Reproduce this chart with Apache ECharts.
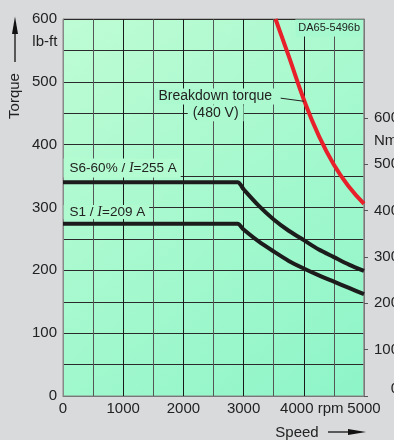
<!DOCTYPE html>
<html><head><meta charset="utf-8">
<script src="https://cdn.jsdelivr.net/npm/echarts@6/dist/echarts.min.js"></script>
<style>html,body{margin:0;padding:0;background:#d9dadc}#c{width:394px;height:440px}</style>
</head><body><div id="c"></div>
<script>
// ---- data ----
const speedTicks = [0, 1000, 2000, 3000, 4000, 5000];
const torqueTicks = [0, 100, 200, 300, 400, 500, 600];
const nmTicks = [0, 100, 200, 300, 400, 500, 600];
const LBFT_PER_NM = 0.737562;

const s6Speed  = [0, 2900, 3000, 3250, 3500, 3750, 4000, 4250, 4500, 4750, 5000];
const s6Torque = [340, 340, 329, 303, 281, 263, 248, 233, 221, 209, 199];

const s1Speed  = [0, 2900, 3000, 3250, 3500, 3750, 4000, 4250, 4500, 4750, 5000];
const s1Torque = [274, 274, 265, 246, 230, 215, 203, 192, 182, 172, 162];

const bdSpeed  = [3530, 3750, 4000, 4250, 4500, 4750, 5000];
const bdTorque = [600, 541, 472, 414, 368, 333, 306];

const pairs = (xs, ys) => xs.map((x, i) => [x, ys[i]]);
const FONT = 'Liberation Sans, Arial, sans-serif';
const TXT = '#222';

const chart = echarts.init(document.getElementById('c'), null, {renderer: 'canvas'});
chart.setOption({
  backgroundColor: '#d9dadc',
  animation: false,
  grid: {
    left: 63, right: 30, top: 19, bottom: 44, show: true, containLabel: false, outerBoundsMode: 'none',
    backgroundColor: new echarts.graphic.LinearGradient(0, 0, 1, 1, [
      {offset: 0, color: '#befcd4'}, {offset: 1, color: '#8df5c8'}]),
    borderColor: '#888', borderWidth: 1
  },
  xAxis: {
    type: 'value', min: 0, max: 5000, interval: 500,
    axisLine: {show: true, lineStyle: {color: '#777', width: 1}},
    axisTick: {show: false},
    splitLine: {show: true, lineStyle: {color: ['#1a1a1a', '#555'], width: 1}},
    axisLabel: {
      customValues: speedTicks, margin: 5, color: TXT, fontFamily: FONT, fontSize: 15,
      formatter: v => v === 4000 ? '{r|4000 rpm}' : String(v),
      rich: {r: {fontFamily: FONT, fontSize: 15, color: TXT, padding: [0, 0, 0, 16]}}
    }
  },
  yAxis: [{
    type: 'value', min: 0, max: 600, interval: 50,
    axisLine: {show: true, lineStyle: {color: '#888', width: 1}},
    axisTick: {show: false},
    splitLine: {show: true, lineStyle: {color: '#2a2a2a', width: 1}},
    axisLabel: {customValues: torqueTicks, margin: 6, color: TXT, fontFamily: FONT, fontSize: 15}
  }, {
    type: 'value', position: 'right', min: 0, max: 600 / LBFT_PER_NM,
    axisLine: {show: true, lineStyle: {color: '#999', width: 1.5}},
    axisTick: {show: true, customValues: nmTicks, length: 4, lineStyle: {color: '#555'}},
    splitLine: {show: false},
    axisLabel: {
      customValues: nmTicks, margin: 35, align: 'right', color: TXT, fontFamily: FONT, fontSize: 15,
      formatter: v => v === 0 ? '{z|0}' : String(v),
      rich: {z: {fontFamily: FONT, fontSize: 15, color: TXT, padding: [0, 0, 14, 0]}}
    }
  }],
  series: [{
    type: 'line', data: pairs(s6Speed, s6Torque), showSymbol: false, smooth: 0.25,
    lineStyle: {color: '#1c1c1c', width: 4, join: 'round'}, z: 3
  }, {
    type: 'line', data: pairs(s1Speed, s1Torque), showSymbol: false, smooth: 0.25,
    lineStyle: {color: '#1c1c1c', width: 4, join: 'round'}, z: 3
  }, {
    type: 'line', data: pairs(bdSpeed, bdTorque), showSymbol: false, smooth: 0.5, clip: true,
    lineStyle: {color: '#e8202a', width: 4, join: 'round'}, z: 4
  }]
});

function px(x, y) { return chart.convertToPixel({gridIndex: 0}, [x, y]); }
function label(text, at, opts) {
  const p = px(at[0], at[1]);
  return {
    type: 'text', x: p[0], y: p[1], z: 50,
    style: Object.assign({text: text, fill: TXT, font: '13.5px ' + FONT,
      align: 'left', verticalAlign: 'middle'}, opts || {})
  };
}
const leadA = px(3616, 474), leadB = px(4005, 469);
chart.setOption({
  graphic: [
    label('S6-60% / {i|I}=255 A', [10, 363], {backgroundColor: '#b3fbd1', padding: [3, 4, 2, 6],
      rich: {i: {font: 'italic 14px "Liberation Serif", serif', fill: TXT}}}),
    label('S1 / {i|I}=209 A', [10, 293], {backgroundColor: '#b0fad0', padding: [0, 4, 0, 6],
      rich: {i: {font: 'italic 14px "Liberation Serif", serif', fill: TXT}}}),
    label('Breakdown torque', [2530, 476.6], {align: 'center', font: '14px ' + FONT, backgroundColor: '#adf9cf', padding: [1, 4]}),
    label('(480 V)', [2536, 450], {align: 'center', font: '14px ' + FONT, backgroundColor: '#acf9cf', padding: [1, 5]}),
    label('DA65-5496b', [4985, 585.7], {align: 'right', font: '11px ' + FONT, backgroundColor: '#a6f9cf', padding: [3, 3]}),
    {type: 'line', z: 50, shape: {x1: leadA[0], y1: leadA[1], x2: leadB[0], y2: leadB[1]}, style: {stroke: '#222', lineWidth: 1}},
    // axis decorations
    {type: 'text', x: 57.3, y: 41.7, style: {text: 'lb-ft', fill: TXT, font: '15px ' + FONT, align: 'right', verticalAlign: 'middle'}},
    {type: 'text', x: 374, y: 140.7, style: {text: 'Nm', fill: TXT, font: '15px ' + FONT, align: 'left', verticalAlign: 'middle'}},
    {type: 'text', x: 15, y: 96, rotation: Math.PI / 2, style: {text: 'Torque', fill: TXT, font: '15px ' + FONT, align: 'center', verticalAlign: 'middle'}},
    {type: 'line', shape: {x1: 15, y1: 62, x2: 15, y2: 32}, style: {stroke: '#111', lineWidth: 1.3}},
    {type: 'polygon', shape: {points: [[15, 16.5], [12, 34], [18, 34]]}, style: {fill: '#111'}},
    {type: 'text', x: 297, y: 432.5, style: {text: 'Speed', fill: TXT, font: '15px ' + FONT, align: 'center', verticalAlign: 'middle'}},
    {type: 'line', shape: {x1: 328, y1: 432, x2: 350, y2: 432}, style: {stroke: '#111', lineWidth: 1.3}},
    {type: 'polygon', shape: {points: [[366, 432], [348, 429], [348, 435]]}, style: {fill: '#111'}}
  ]
});
</script>
</body></html>
